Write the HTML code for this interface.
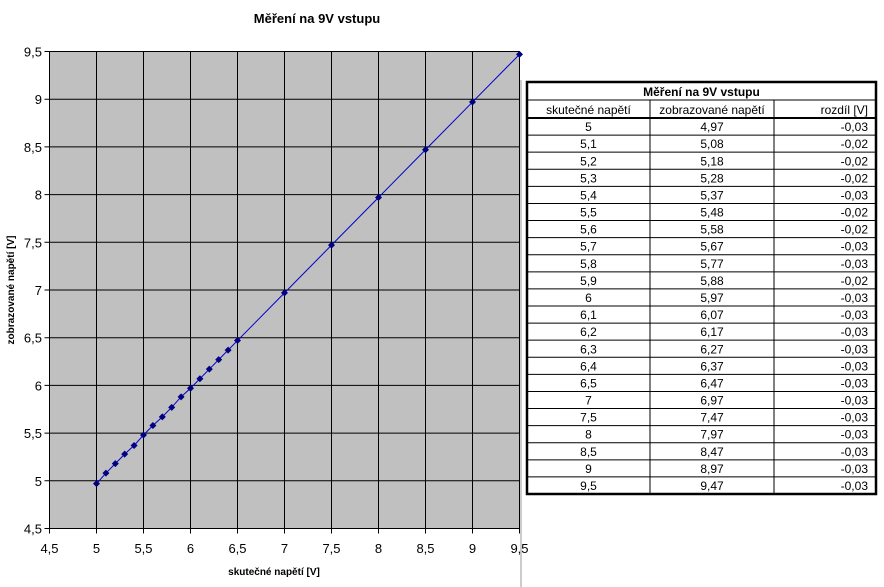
<!DOCTYPE html>
<html><head><meta charset="utf-8"><style>
body{margin:0;background:#fff;}
svg{display:block;font-family:"Liberation Sans",Arial,sans-serif;}
</style></head><body>
<svg id="chart" width="884" height="587" viewBox="0 0 884 587">
<text x="317" y="23" font-size="13" font-weight="bold" text-anchor="middle">Měření na 9V vstupu</text>
<rect x="49.5" y="51.5" width="470" height="477" fill="#c0c0c0"/>
<g id="grid"></g>
<g id="ticks" font-size="13"></g>
<path id="line" fill="none" stroke="#0000cc" stroke-width="1"/>
<g id="points"></g>
<text x="274" y="575" font-size="10" font-weight="bold" text-anchor="middle">skutečné napětí [V]</text>
<text transform="translate(14,290) rotate(-90)" font-size="10" font-weight="bold" text-anchor="middle">zobrazované napětí [V]</text>
<line x1="521" y1="80" x2="521" y2="587" stroke="#999"/>
<g id="table" font-size="12"></g>
</svg>
<script>
const actual=[5,5.1,5.2,5.3,5.4,5.5,5.6,5.7,5.8,5.9,6,6.1,6.2,6.3,6.4,6.5,7,7.5,8,8.5,9,9.5];
const shown=[4.97,5.08,5.18,5.28,5.37,5.48,5.58,5.67,5.77,5.88,5.97,6.07,6.17,6.27,6.37,6.47,6.97,7.47,7.97,8.47,8.97,9.47];
const diffs=["-0,03","-0,02","-0,02","-0,02","-0,03","-0,02","-0,02","-0,03","-0,03","-0,02","-0,03","-0,03","-0,03","-0,03","-0,03","-0,03","-0,03","-0,03","-0,03","-0,03","-0,03","-0,03"];
const ticks=[4.5,5,5.5,6,6.5,7,7.5,8,8.5,9,9.5];
const NS="http://www.w3.org/2000/svg";
const X0=49.5,X1=519.5,Y0=528.5,Y1=51.5;
const xs=v=>X0+(v-4.5)/5*(X1-X0);
const ys=v=>Y0-(v-4.5)/5*(Y0-Y1);
const fmt=v=>String(v).replace('.',',');
function mk(tag,attrs,parent){const e=document.createElementNS(NS,tag);for(const k in attrs)e.setAttribute(k,attrs[k]);parent.appendChild(e);return e;}
const grid=document.getElementById('grid'),tk=document.getElementById('ticks');
ticks.forEach(t=>{
  const gv=mk('line',{x1:xs(t),x2:xs(t),y1:Y1,y2:Y0+5,stroke:'#000','stroke-width':1},grid);
  
  
  const gh=mk('line',{x1:X0-5,x2:X1,y1:ys(t),y2:ys(t),stroke:'#000','stroke-width':1},grid);
  
  
  const tx=mk('text',{x:xs(t),y:553,'text-anchor':'middle'},tk);tx.textContent=fmt(t);
  
  
  const ty=mk('text',{x:42,y:ys(t)+5,'text-anchor':'end'},tk);ty.textContent=fmt(t);
  
  
});
mk('rect',{x:X0,y:Y1,width:X1-X0,height:Y0-Y1,fill:'none',stroke:'#000'},grid);
document.getElementById('line').setAttribute('d',actual.map((a,i)=>(i?'L':'M')+xs(a)+','+ys(shown[i])).join(''));
const pts=document.getElementById('points');
actual.forEach((a,i)=>{
  const cx=xs(a),cy=ys(shown[i]);
  const p=mk('polygon',{points:`${cx},${cy-3.5} ${cx+3.5},${cy} ${cx},${cy+3.5} ${cx-3.5},${cy}`,fill:'#000080'},pts);
  
  
});
// table
const tb=document.getElementById('table');
const TL=527,TR=876,TT=82,RH=(494-118)/22,C1=650,C2=774;
mk('rect',{x:TL,y:TT,width:TR-TL,height:494-TT,fill:'#fff',stroke:'#000','stroke-width':2.5},tb);
const tt=mk('text',{x:(TL+TR)/2,y:96,'text-anchor':'middle','font-weight':'bold'},tb);tt.textContent='Měření na 9V vstupu';


mk('line',{x1:TL,x2:TR,y1:100,y2:100,stroke:'#000'},tb);
mk('line',{x1:TL,x2:TR,y1:118,y2:118,stroke:'#000','stroke-width':2},tb);
mk('line',{x1:C1,x2:C1,y1:100,y2:494,stroke:'#000'},tb);
mk('line',{x1:C2,x2:C2,y1:100,y2:494,stroke:'#000'},tb);
[['skutečné napětí',(TL+C1)/2,'middle'],['zobrazované napětí',(C1+C2)/2,'middle'],['rozdíl [V]',TR-8,'end']].forEach(h=>{
  const t=mk('text',{x:h[1],y:114,'text-anchor':h[2]},tb);t.textContent=h[0];
  
  
});
actual.forEach((a,i)=>{
  const y=118+RH*(i+1);
  if(i<actual.length-1)mk('line',{x1:TL,x2:TR,y1:y,y2:y,stroke:'#000'},tb);
  const ty=y-4;
  const t1=mk('text',{x:(TL+C1)/2,y:ty,'text-anchor':'middle'},tb);t1.textContent=fmt(a);
  
  
  const t2=mk('text',{x:(C1+C2)/2,y:ty,'text-anchor':'middle'},tb);t2.textContent=fmt(shown[i]);
  
  
  const t3=mk('text',{x:TR-8,y:ty,'text-anchor':'end'},tb);t3.textContent=diffs[i];
  
  
});
</script>
</body></html>
